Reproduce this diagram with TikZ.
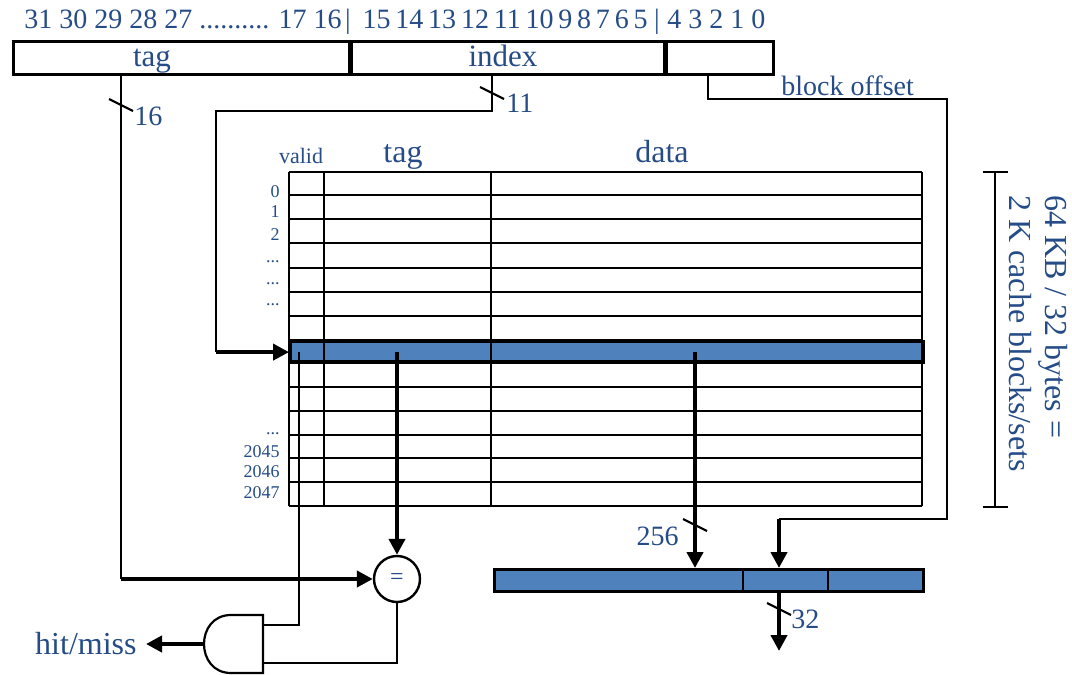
\documentclass[tikz,border=0pt]{standalone}
\usepackage{fontspec}
\setmainfont{Liberation Serif}
\usepackage{tikz}
\usetikzlibrary{positioning,arrows.meta,calc}
\definecolor{inkblue}{HTML}{254C87}
\definecolor{cellblue}{HTML}{4F81BD}
\tikzset{
  lab/.style   ={text=inkblue, inner sep=0pt},
  bigtxt/.style={lab, font=\fontsize{15.5}{18}\selectfont},
  bittxt/.style={lab, font=\fontsize{14}{17}\selectfont},
  midtxt/.style={lab, font=\fontsize{14}{16}\selectfont},
  tinytxt/.style={lab, font=\fontsize{9}{10}\selectfont},
  field/.style ={draw, line width=1.3pt, minimum height=16.5pt, inner sep=0pt,
                 anchor=north west},
  cell/.style  ={draw, line width=1.2pt},
  hlrow/.style ={draw, fill=cellblue, line width=1.6pt, inner sep=0pt,
                 anchor=north west},
  wire/.style  ={draw, line width=1.1pt},
  % wide data paths and the arrows that end them
  bus/.style   ={draw, line width=2.2pt, -{Triangle[length=8pt,width=8pt]}},
  eqnode/.style={circle, draw, line width=1.2pt, minimum size=23pt, inner sep=0pt,
                 text=inkblue, font=\fontsize{12}{12}\selectfont},
}
% short slanted cut that marks the width of a bus
\newcommand{\buscut}[2]{\draw[wire] (#1-12,#2-6) -- (#1+12,#2+6);}

\begin{document}
\begin{tikzpicture}[x=0.5pt,y=-0.5pt]
\useasboundingbox (0,0) rectangle (1072,675);
% address bits
\node[bittxt,anchor=base east] (bitsL) at (342,28) {31 30 29 28 27 .......... 17 16};
\node[bittxt,anchor=base] (barA) at (348,28) {|};
\node[bittxt,anchor=base east] (bitsM) at (648,28) {\spaceskip=2.4pt 15 14 13 12 11 10 9 8 7 6 5};
\node[bittxt,anchor=base] (barB) at (657,28) {|};
\node[bittxt,anchor=base west] (bitsR) at (667,28) {4 3 2 1 0};
\node[field,minimum width=168pt] (ftag) at (12,40) {};
\node[field,minimum width=156pt,right=0pt of ftag] (findex) {};
\node[field,minimum width=53.5pt,right=0pt of findex] (foff) {};
\node[bigtxt,anchor=base] (ltag) at (152,66) {tag};
\node[bigtxt,anchor=base] (lindex) at (503,66) {index};
\node[midtxt,anchor=base west] (loff) at (781,95) {block offset};

% cache array
\node[hlrow,minimum width=316.5pt,minimum height=10.5pt] (row) at (289,340) {};
\foreach \y in {172,195,219,243,268,292,316,340,361,387,411,435,458,482,506}
  {\draw[cell] (289,\y) -- (922,\y);}
\foreach \x in {289,324,491,922}
  {\draw[cell] (\x,172) -- (\x,506);}
\node[lab,font=\fontsize{11}{12}\selectfont,anchor=base] (hvalid) at (301,163) {valid};
\node[lab,font=\fontsize{16}{18}\selectfont,anchor=base] (htag) at (403,162) {tag};
\node[lab,font=\fontsize{16}{18}\selectfont,anchor=base] (hdata) at (662,162) {data};
\foreach \n/\y in {0/197,1/217,2/240,2045/457,2046/477,2047/498}
  {\node[tinytxt,anchor=base east] at (280,\y) {\n};}
\foreach \y in {262,284,305,434}
  {\node[tinytxt,anchor=base east] at (280,\y) {...};}

% size bracket
\draw[wire] (983,172) -- (1008,172);
\draw[wire] (983,507) -- (1008,507);
\draw[wire] (995,172) -- (995,507);
\node[lab,font=\fontsize{16}{18}\selectfont,rotate=-90,anchor=west] (size1) at (1053,195) {64 KB / 32 bytes =};
\node[lab,font=\fontsize{16}{18}\selectfont,rotate=-90,anchor=west] (size2) at (1020,195) {2 K cache blocks/sets};

% comparator, word select, hit logic
\node[eqnode] (eq) at (397,579) {=};
\node[hlrow,minimum width=214.5pt,minimum height=11pt,line width=1.3pt] (mux) at (493,568) {};
\foreach \x in {743,828}
  {\draw[wire] (\x,568) -- (\x,590);}
\draw[wire] (263,615) -- (231,615) .. controls (195,615) and (195,673) .. (231,673)
  -- (263,673) -- cycle;
\coordinate (andA) at (263,625);
\coordinate (andB) at (263,663);
\coordinate (andout) at (204,644);
\node[lab,font=\fontsize{16}{18}\selectfont,anchor=base east] (hm) at (137,654) {hit/miss};

% taps and bends
\coordinate (tagtap) at (121,73);
\coordinate (idxtap) at (492,73);
\coordinate (idxbend) at (216,111);
\coordinate (offtap) at (708,73);
\coordinate (offbend) at (947,99);
\coordinate (offdrop) at (779,519);
\coordinate (validtap) at (299,352);
\coordinate (tagread) at (397,352);
\coordinate (datatap) at (695,352);
\coordinate (wordout) at (779,651);

% wires
\draw[wire] (tagtap) -- (tagtap |- eq.west);
\draw[bus] (tagtap |- eq.west) -- (eq.west);
\draw[wire] (idxtap) |- (idxbend) -- (idxbend |- row.west);
\draw[bus] (idxbend |- row.west) -- (row.west);
\draw[wire] (offtap) |- (offbend) |- (offdrop);
\draw[bus] (offdrop) -- (offdrop |- mux.north);
\draw[bus] (tagread) -- (eq.north);
\draw[bus] (datatap) -- (datatap |- mux.north);
\draw[bus] (offdrop |- mux.south) -- (wordout);
\draw[wire] (validtap) |- (andA);
\draw[wire] (eq.south) |- (andB);
\draw[bus] (andout) -- ([xshift=4.5pt]hm.east |- andout);

% bus widths
\buscut{121}{105}
\node[midtxt,anchor=base west] (w16) at (134,125) {16};
\buscut{492}{93}
\node[midtxt,anchor=base west] (w11) at (506,112) {11};
\buscut{695}{525}
\node[midtxt,anchor=base east] (w256) at (679,545) {256};
\buscut{779}{609}
\node[midtxt,anchor=base west] (w32) at (791,628) {32};
\end{tikzpicture}
\end{document}
